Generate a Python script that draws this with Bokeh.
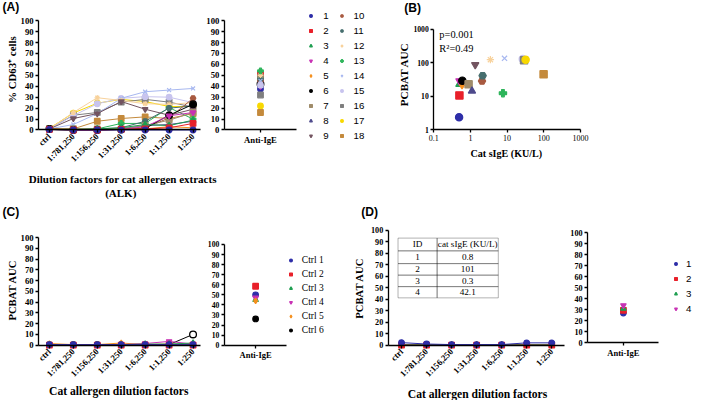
import math
from bokeh.plotting import figure
from bokeh.layouts import row, column
from bokeh.models import (Range1d, FixedTicker, Label, Legend,
                          LegendItem, BoxAnnotation, CustomJSTickFormatter)
from bokeh.embed import file_html
from bokeh.resources import INLINE

# ---------------- data ----------------
dilutions = ["ctrl", "1:781,250", "1:156,250", "1:31,250", "1:6,250", "1:1,250", "1:250"]
anti_cats = ["Anti-IgE"]

# (A) % CD63+ cells, patients 1-18
patient_labels = ["1", "2", "3", "4", "5", "6", "7", "8", "9",
                  "10", "11", "12", "13", "14", "15", "16", "17", "18"]
pt1 = [0.5, 0, 0, 0, 0, 0, 0]
pt2 = [0.5, 0, 0, 0.5, 1, 2, 6]
pt3 = [0.5, 0, 1, 2, 5, 4, 9]
pt4 = [0.5, 0, 0, 0.5, 3, 13, 16]
pt5 = [1, 0.5, 0.5, 1, 1, 3, 2]
pt6 = [1, 0, 0, 0.5, 1.5, 13.5, 23.5]
pt7 = [1, 1, 1, 1, 4, 9, 16]
pt8 = [0.5, 0, 0, 1, 4, 5, 8]
pt9 = [1, 10.5, 15, 26, 19, 13.5, 19]
pt10 = [1, 0, 0, 0.5, 2, 11, 29]
pt11 = [0.5, 0, 1, 2, 8, 20, 22]
pt12 = [1, 16, 29.5, 27, 24, 23.5, 25]
pt13 = [0.5, 1, 1, 6, 6, 20.5, 10]
pt14 = [1, 5, 15, 29, 35, 36.5, 38]
pt15 = [1, 13, 24, 29, 30.5, 30, 25]
pt16 = [1, 13.5, 16, 25.5, 28, 25.5, 21]
pt17 = [1.5, 15.5, 24.5, 28, 26, 21.5, 21.5]
pt18 = [1, 1, 8, 10.5, 12, 10.5, 15]
anti_a = [37.5, 51, 48.5, 40, 44, 42, 48, 46, 43, 45, 47, 50, 54, 45, 41, 32, 22, 16]

# (B) cat sIgE vs PCBAT AUC
sige_b = [0.49, 0.5, 0.5, 0.5, 0.59, 0.6, 0.89, 1.1, 1.35, 2.07, 2.15, 3.5, 7.7, 8.5, 26.7, 29, 32, 99]
auc_b = [2.4, 10.7, 23, 29, 21.5, 29.5, 23, 14.5, 88, 28.7, 41.5, 124, 12.5, 136, 130, 119, 124, 45.5]
b_xticks = [0.1, 1, 10, 100, 1000]
b_yticks = [1, 10, 100, 1000]
b_stats = ["p=0.001", "R²=0.49"]

# (C) controls
ctrl_labels = ["Ctrl 1", "Ctrl 2", "Ctrl 3", "Ctrl 4", "Ctrl 5", "Ctrl 6"]
ctrl1 = [0.5, 0.5, 0.5, 0.5, 0.5, 0.5, 0.5]
ctrl2 = [0, 0, 0, 0, 0, 0, 0]
ctrl3 = [0.5, 0, 0, 0.5, 1, 1, 2]
ctrl4 = [0.5, 0, 0, 0.5, 1.5, 3.5, 1]
ctrl5 = [1.5, 0.5, 0.5, 2, 0.5, 1, 0.5]
ctrl6 = [0.5, 0.5, 0.5, 0.5, 0.5, 0.5, 10]
anti_c = [50, 58.5, 45, 47, 44, 26]

# (D)
d_labels = ["1", "2", "3", "4"]
dp1 = [2.2, 1, 0.5, 0.5, 0.5, 2, 2]
dp2 = [0, 0, 0, 0, 0, 0, 0]
dp3 = [0.5, 0.5, 0.5, 0.5, 0.5, 0.5, 0.5]
dp4 = [0.5, 0.5, 0.5, 0.5, 0.5, 0.5, 0.5]
anti_d = [27, 29.5, 31, 34]
table_head = ["ID", "cat sIgE (KU/L)"]
table_ids = ["1", "2", "3", "4"]
table_sige = ["0.8", "101", "0.3", "42.1"]

# ---------------- styles ----------------
pal = ["#2E2EA8", "#E8202A", "#1E9E50", "#C832B4", "#F5901E", "#000000",
       "#A08C6A", "#4E4A8C", "#735460", "#A85A40", "#466E6E", "#F8D29C",
       "#2DB45A", "#A8B8F0", "#C8C4EE", "#7F7F7F", "#F8D800", "#C48A3C"]
mks = ["circle", "square", "triangle", "inverted_triangle", "diamond", "circle",
       "square", "triangle", "inverted_triangle", "hex", "hex", "asterisk",
       "plus", "x", "circle", "square", "circle", "square"]

SX = 693.0 / 709.0
SY = 400.0 / 417.0
FS = 0.965
SERIF = "Liberation Serif"
SANS = "Liberation Sans"
XS = list(range(len(dilutions)))
AX = [anti_cats.index(c) for c in anti_cats]


def scx(v):
    return int(round(v * SX))


def scy(v):
    return int(round(v * SY))


FR = {}


def base_fig(name, x0, x1, y0, y1, x_range, y_range, **kw):
    p = figure(width=scx(x1) - scx(x0), height=scy(y1) - scy(y0), min_border=0,
               x_range=x_range, y_range=y_range, output_backend="svg",
               toolbar_location=None, **kw)
    p.min_border_left = p.min_border_right = p.min_border_top = p.min_border_bottom = 0
    p.outline_line_color = None
    p.grid.visible = False
    p.background_fill_color = "white"
    p.border_fill_color = "white"
    FR[name] = (scx(x0), scy(y1))
    return p


def txt(p, name, X, Y, text, size, font=SERIF, style="bold", align="center",
        baseline="middle", angle=0.0):
    lp, bp = FR[name]
    p.add_layout(Label(x=SX * X - lp, y=bp - SY * Y, x_units="screen", y_units="screen",
                       text=text, text_font=font, text_font_style=style,
                       text_font_size=f"{size * FS:.1f}px", text_align=align,
                       text_baseline=baseline, angle=angle, text_color="black"))


def style_axis(ax, size, bold=True):
    ax.axis_line_color = "black"
    ax.axis_line_width = 1.3
    ax.major_tick_line_color = "black"
    ax.major_tick_line_width = 1.3
    ax.major_tick_out = 3
    ax.major_tick_in = 0
    ax.minor_tick_line_color = None
    ax.major_label_text_font = SERIF
    ax.major_label_text_font_style = "bold" if bold else "normal"
    ax.major_label_text_font_size = f"{size * FS:.1f}px"
    ax.major_label_text_color = "black"
    ax.major_label_standoff = 2


def lin_panel(name, x0, x1, y0, y1, fl, fr, p0, p100, first_x, step, ysize, xsize,
              xticks, xlabels, orient):
    kx = SX * step
    ky = SY * (p0 - p100) / 100.0
    xs = (scx(x0) - SX * first_x) / kx
    xe = (scx(x1) - SX * first_x) / kx
    ys = -(scy(y1) - SY * p0) / ky
    ye = (SY * p0 - scy(y0)) / ky
    p = base_fig(name, x0, x1, y0, y1, Range1d(xs, xe), Range1d(ys, ye))
    axl = (fl - first_x) / step
    axr = (fr - first_x) / step
    p.yaxis.ticker = FixedTicker(ticks=list(range(0, 101, 10)))
    p.yaxis.bounds = (0, 100)
    p.yaxis.fixed_location = axl
    style_axis(p.yaxis[0], ysize)
    p.xaxis.ticker = FixedTicker(ticks=xticks)
    p.xaxis.major_label_overrides = {t: l for t, l in zip(xticks, xlabels)}
    p.xaxis.major_label_orientation = orient
    p.xaxis.fixed_location = 0
    p.xaxis.bounds = (axl, axr)
    style_axis(p.xaxis[0], xsize)
    return p


def main_panel(name, x0, x1, y0, y1, fl, fr, p0, p100, first_x, last_x, ysize, xsize):
    step = (last_x - first_x) / (len(dilutions) - 1)
    return lin_panel(name, x0, x1, y0, y1, fl, fr, p0, p100, first_x, step,
                     ysize, xsize, XS, dilutions, math.pi / 4)


def anti_panel(name, x0, x1, y0, y1, fl, fr, p0, p100, tick_x, ysize, xsize):
    return lin_panel(name, x0, x1, y0, y1, fl, fr, p0, p100, tick_x, 1.0,
                     ysize, xsize, AX, anti_cats, "horizontal")


def add_legend(p, name, renderers, labels, glyph_cx, label_x, top_cy, pitch_ref, font, size):
    lp, bp = FR[name]
    gw = 7
    pitch = int(round(pitch_ref * SY))
    leg = Legend(items=[LegendItem(label=l, renderers=[r]) for l, r in zip(labels, renderers)])
    leg.glyph_width = gw
    leg.glyph_height = pitch
    leg.label_height = pitch
    leg.label_width = 5
    leg.spacing = 0
    leg.padding = 0
    leg.margin = 0
    leg.label_standoff = int(round(SX * (label_x - glyph_cx) - gw / 2))
    leg.border_line_color = None
    leg.background_fill_alpha = 0
    leg.label_text_font = font
    leg.label_text_font_size = f"{size * FS:.1f}px"
    leg.label_text_color = "black"
    top_px = SY * top_cy - pitch / 2
    bottom_px = top_px + len(labels) * pitch
    leg.location = (SX * glyph_cx - gw / 2 - lp, bp - bottom_px)
    p.add_layout(leg)


MS = 5.6

# ---------------- (A) ----------------
series_a = [pt1, pt2, pt3, pt4, pt5, pt6, pt7, pt8, pt9, pt10, pt11, pt12,
            pt13, pt14, pt15, pt16, pt17, pt18]
pA1 = main_panel("A1", 0, 208, 0, 179, 39, 205, 135, 21, 50, 197, 9, 9)
for i in reversed(range(len(series_a))):
    pA1.line(XS, series_a[i], line_color=pal[i], line_width=1)
    pA1.scatter(XS, series_a[i], marker=mks[i], size=MS * (1.2 if i == 5 else 1),
                fill_color=pal[i], line_color=pal[i], line_width=1.2)
txt(pA1, "A1", 2, 7, "(A)", 12.5, font=SANS, align="left")
txt(pA1, "A1", 12, 72, "% CD63⁺ cells", 11.2, angle=math.pi / 2)

pA2 = anti_panel("A2", 208, 400, 0, 179, 229, 303, 135, 21, 266, 9, 9)
rend_a = []
for i in range(len(anti_a)):
    r = pA2.scatter(AX, [anti_a[i]], marker=mks[i], size=MS * (1.2 if i == 5 else 1),
                    fill_color=pal[i], line_color=pal[i], line_width=1.2)
    rend_a.append(r)
add_legend(pA2, "A2", rend_a[:9], patient_labels[:9], 318, 331, 16, 15.4, SANS, 10)
add_legend(pA2, "A2", rend_a[9:], patient_labels[9:], 349, 362, 16, 15.4, SANS, 10)

pAT = base_fig("AT", 0, 400, 179, 208, Range1d(0, 1), Range1d(0, 1),
               x_axis_type=None, y_axis_type=None)
txt(pAT, "AT", 125, 186, "Dilution factors for cat allergen extracts", 11.4)
txt(pAT, "AT", 123, 201, "(ALK)", 11.4)

# ---------------- (B) ----------------
bx0, bx1, by0, by1 = 400, 709, 0, 208
bfl, bfr, bft, bfb = 443.3, 593.3, 30, 135
dpx = (bfr - bfl) / 4.0
dpy = (bfb - bft) / 3.0
bxs = 10 ** (-1 - (SX * bfl - scx(bx0)) / (SX * dpx))
bxe = 10 ** (3 + (scx(bx1) - SX * bfr) / (SX * dpx))
bys = 10 ** (0 - (scy(by1) - SY * bfb) / (SY * dpy))
bye = 10 ** (3 + (SY * bft - scy(by0)) / (SY * dpy))
pB = base_fig("B", bx0, bx1, by0, by1, Range1d(bxs, bxe), Range1d(bys, bye),
              x_axis_type="log", y_axis_type="log")
pB.xaxis.ticker = FixedTicker(ticks=b_xticks)
pB.yaxis.ticker = FixedTicker(ticks=b_yticks)
pB.xaxis.formatter = CustomJSTickFormatter(code="return String(tick)")
pB.yaxis.formatter = CustomJSTickFormatter(code="return String(tick)")
pB.xaxis.fixed_location = b_yticks[0]
pB.yaxis.fixed_location = b_xticks[0]
pB.xaxis.bounds = (b_xticks[0], b_xticks[-1])
pB.yaxis.bounds = (b_yticks[0], b_yticks[-1])
style_axis(pB.xaxis[0], 8.3, bold=False)
style_axis(pB.yaxis[0], 8)
for i in range(len(sige_b)):
    pB.scatter([sige_b[i]], [auc_b[i]], marker=mks[i], size=7.3,
               fill_color=pal[i], line_color=pal[i], line_width=1.2)
txt(pB, "B", 413, 8, "(B)", 12.5, font=SANS, align="left")
txt(pB, "B", 449, 35.5, b_stats[0], 10.8, style="normal", align="left")
txt(pB, "B", 449, 50, b_stats[1], 10.8, style="normal", align="left")
txt(pB, "B", 413, 77, "PCBAT AUC", 11.5, angle=math.pi / 2)
txt(pB, "B", 517.5, 159, "Cat sIgE (KU/L)", 10.5)

# ---------------- (C) ----------------
series_c = [ctrl1, ctrl2, ctrl3, ctrl4, ctrl5, ctrl6]
pC1 = main_panel("C1", 0, 208, 208, 417, 39, 205, 359.3, 247.3, 50, 197, 9, 9)
for i in reversed(range(len(series_c))):
    pC1.line(XS, series_c[i], line_color=pal[i], line_width=1)
    pC1.scatter(XS, series_c[i], marker=mks[i], size=MS,
                fill_color=pal[i], line_color=pal[i], line_width=1.2)
pC1.scatter(XS[-1:], ctrl6[-1:], marker="circle", size=MS * 1.2,
            fill_color="white", line_color="black", line_width=1.3)
txt(pC1, "C1", 2, 220, "(C)", 12.5, font=SANS, align="left")
txt(pC1, "C1", 12, 302, "PCBAT AUC", 11, angle=math.pi / 2)
txt(pC1, "C1", 121, 407.5, "Cat allergen dilution factors", 12)

pC2 = anti_panel("C2", 208, 355, 208, 417, 229, 293, 359.3, 254.3, 261, 8, 8.8)
rend_c = []
for i in range(len(anti_c)):
    r = pC2.scatter(AX, [anti_c[i]], marker=mks[i], size=MS,
                    fill_color=pal[i], line_color=pal[i], line_width=1.2)
    rend_c.append(r)
add_legend(pC2, "C2", rend_c, ctrl_labels, 297, 308.3, 271, 14.1, SERIF, 9.8)

# ---------------- (D) ----------------
series_d = [dp1, dp2, dp3, dp4]
pD1 = main_panel("D1", 355, 580, 208, 417, 396.7, 577, 359.3, 239.7, 410.3, 564, 8.5, 9)
for i in reversed(range(len(series_d))):
    pD1.line(XS, series_d[i], line_color=pal[i], line_width=1)
    pD1.scatter(XS, series_d[i], marker=mks[i], size=MS,
                fill_color=pal[i], line_color=pal[i], line_width=1.2)
txt(pD1, "D1", 369, 220, "(D)", 12.5, font=SANS, align="left")
txt(pD1, "D1", 367, 300, "PCBAT AUC", 11, angle=math.pi / 2)
txt(pD1, "D1", 488, 411, "Cat allergen dilution factors", 12)

# table
col_x = [406.7, 446.7, 509.3]
row_y = [247.7, 261, 274.3, 286.3, 298.3, 310]
lp, bp = FR["D1"]
for r in range(len(row_y) - 1):
    for c in range(len(col_x) - 1):
        pD1.add_layout(BoxAnnotation(left=SX * col_x[c] - lp, right=SX * col_x[c + 1] - lp,
                                     top=bp - SY * row_y[r], bottom=bp - SY * row_y[r + 1],
                                     left_units="screen", right_units="screen",
                                     top_units="screen", bottom_units="screen",
                                     fill_color=None, fill_alpha=0, line_color="black",
                                     line_width=1))
cells = [table_head] + [[a, b] for a, b in zip(table_ids, table_sige)]
for r, (a, b) in enumerate(cells):
    yc = (row_y[r] + row_y[r + 1]) / 2
    txt(pD1, "D1", (col_x[0] + col_x[1]) / 2, yc, a, 9.5, style="normal")
    txt(pD1, "D1", (col_x[1] + col_x[2]) / 2, yc, b, 9.5, style="normal")

pD2 = anti_panel("D2", 580, 709, 208, 417, 600.7, 673, 356.7, 242.3, 637.3, 8.5, 8.8)
rend_d = []
for i in range(len(anti_d)):
    r = pD2.scatter(AX, [anti_d[i]], marker=mks[i], size=MS,
                    fill_color=pal[i], line_color=pal[i], line_width=1.2)
    rend_d.append(r)
add_legend(pD2, "D2", rend_d, d_labels, 691, 702, 275, 15.3, SANS, 10)

layout = column(row(column(row(pA1, pA2), pAT), pB), row(pC1, pC2, pD1, pD2))
open("out.html", "w").write(file_html(layout, INLINE))
